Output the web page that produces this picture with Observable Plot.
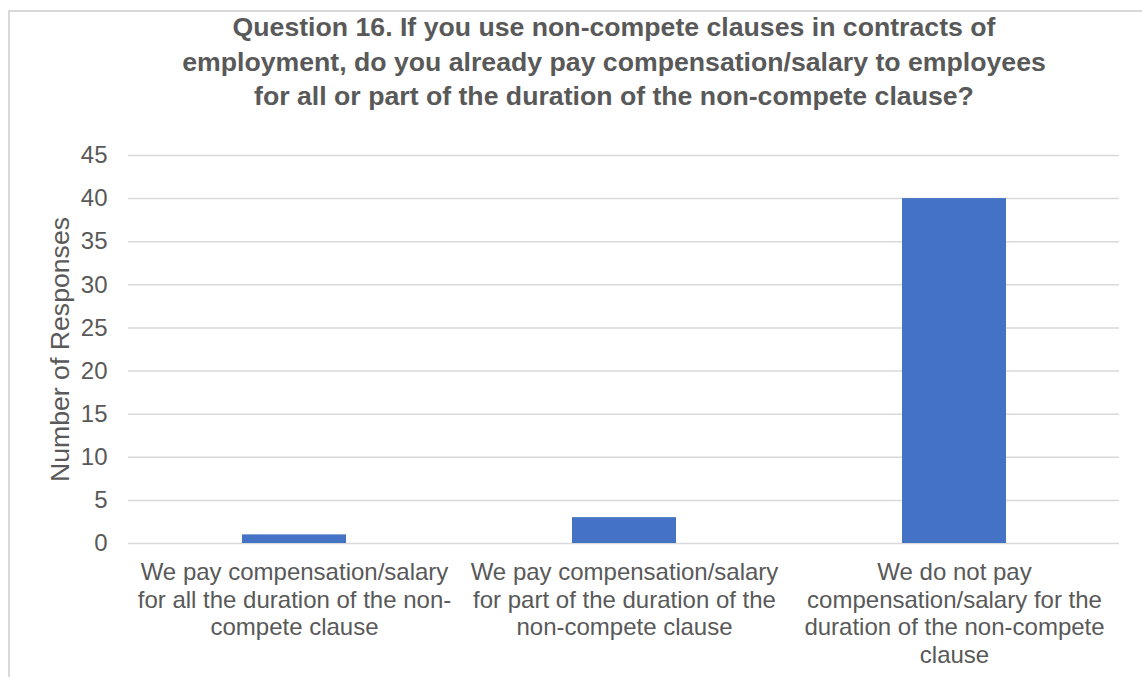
<!DOCTYPE html>
<html>
<head>
<meta charset="utf-8">
<script src="https://cdn.jsdelivr.net/npm/d3@7"></script>
<script src="https://cdn.jsdelivr.net/npm/@observablehq/plot@0.6"></script>
<style>
  html, body { margin: 0; padding: 0; background: #fff; width: 1142px; height: 677px; overflow: hidden; }
  body { font-family: "Liberation Sans", Arial, sans-serif; position: relative; }
  #frame { position: absolute; left: 8px; top: 10px; width: 1300px; height: 800px;
           border-left: 2px solid #d9d9d9; border-top: 2px solid #d9d9d9; box-sizing: border-box; }
  #title { position: absolute; left: 114px; top: 10px; width: 1000px; text-align: center;
           font-weight: bold; font-size: 26.67px; line-height: 34.5px; color: #595959; }
  #chart { position: absolute; left: 0; top: 115px; }
  #chart svg { font-family: "Liberation Sans", Arial, sans-serif; overflow: visible; }
</style>
</head>
<body>
<div id="frame"></div>
<div id="title">Question 16. If you use non-compete clauses in contracts of<br>employment, do you already pay compensation/salary to employees<br>for all or part of the duration of the non-compete clause?</div>
<div id="chart"></div>
<script>
const categories = [
  "We pay compensation/salary for all the duration of the non-compete clause",
  "We pay compensation/salary for part of the duration of the non-compete clause",
  "We do not pay compensation/salary for the duration of the non-compete clause"
];
const responses = [1, 3, 40];
const categoryLabels = [
  "We pay compensation/salary\nfor all the duration of the non-\ncompete clause",
  "We pay compensation/salary\nfor part of the duration of the\nnon-compete clause",
  "We do not pay\ncompensation/salary for the\nduration of the non-compete\nclause"
];
const yTicks = [0, 5, 10, 15, 20, 25, 30, 35, 40, 45];
const yLabel = "Number of Responses";

const data = categories.map((c, i) => ({category: c, value: responses[i]}));
const labelOf = new Map(categories.map((c, i) => [c, categoryLabels[i]]));

const chart = Plot.plot({
  width: 1142,
  height: 562,
  marginLeft: 128,
  marginRight: 23,
  marginTop: 40,
  marginBottom: 134,
  style: {color: "#595959", background: "transparent"},
  x: {domain: categories, paddingInner: 0.685, paddingOuter: 0.3425},
  y: {domain: [0, 45]},
  marks: [
    Plot.gridY(yTicks, {stroke: "#d9d9d9", strokeOpacity: 1, strokeWidth: 1.5}),
    Plot.barY(data, {x: "category", y: "value", fill: "#4472C4"}),
    Plot.axisY(yTicks, {tickSize: 0, tickPadding: 21, fontSize: 24, label: null, fill: "#595959"}),
    Plot.axisY({ticks: [], tickSize: 0, label: yLabel, labelAnchor: "center", labelArrow: "none",
                labelOffset: 78, fontSize: 26.67, fill: "#595959"}),
    Plot.axisX({tickSize: 0, tickPadding: 17, fontSize: 24, lineHeight: 1.15, label: null,
                tickFormat: d => labelOf.get(d), fill: "#595959"})
  ]
});
document.getElementById("chart").appendChild(chart);
</script>
</body>
</html>
